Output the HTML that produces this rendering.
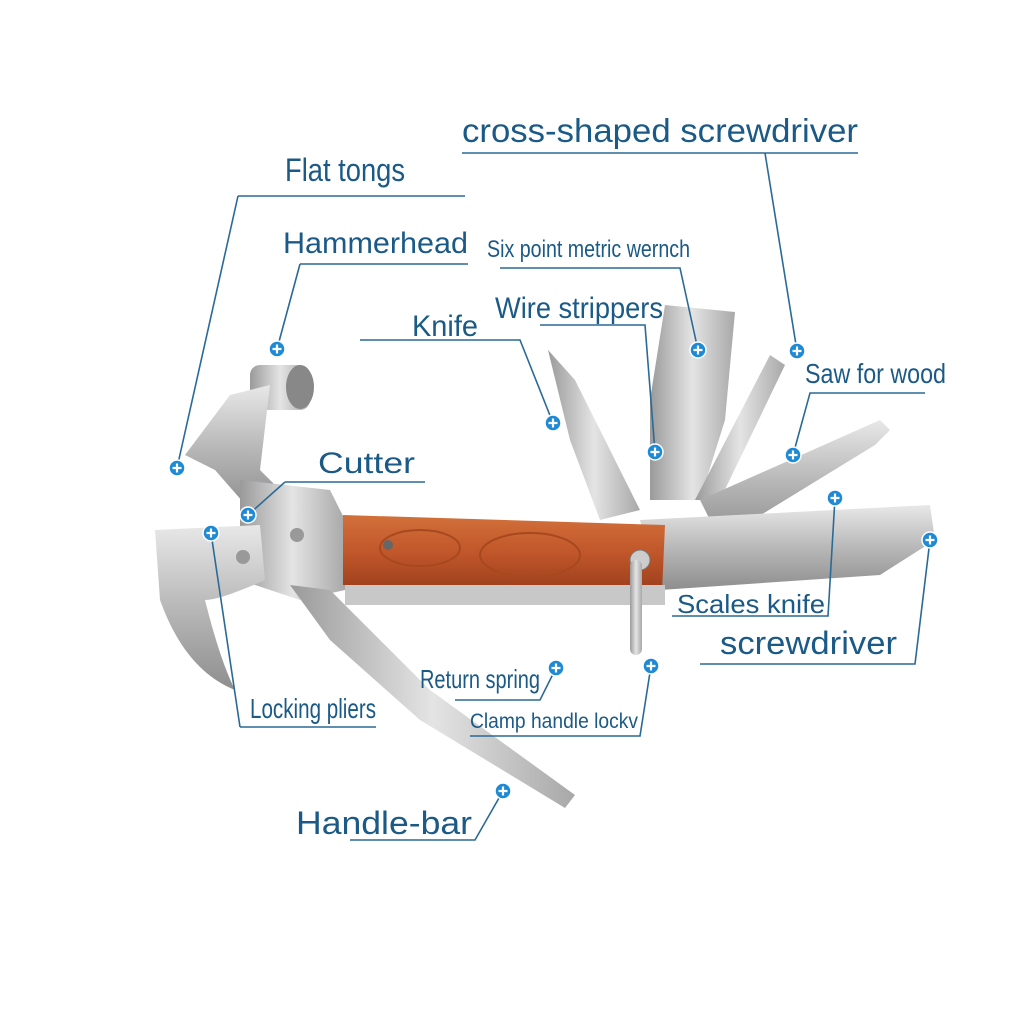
<!DOCTYPE html>
<html><head><meta charset="utf-8"><style>
html,body{margin:0;padding:0;background:#fff}
svg{display:block}
.t{font-family:"Liberation Sans",sans-serif;fill:#1b5a86}
.l{stroke:#2a6a96;stroke-width:1.6;fill:none}
</style></head><body>
<svg width="1024" height="1024" viewBox="0 0 1024 1024" xmlns="http://www.w3.org/2000/svg">
<defs>
<linearGradient id="m" x1="0" y1="0" x2="0" y2="1"><stop offset="0" stop-color="#e8e8e8"/><stop offset=".5" stop-color="#b8b8b8"/><stop offset="1" stop-color="#8e8e8e"/></linearGradient>
<linearGradient id="m2" x1="0" y1="0" x2="1" y2="0"><stop offset="0" stop-color="#9a9a9a"/><stop offset=".5" stop-color="#e4e4e4"/><stop offset="1" stop-color="#a8a8a8"/></linearGradient>
<linearGradient id="w" x1="0" y1="0" x2="0" y2="1"><stop offset="0" stop-color="#d2703a"/><stop offset=".5" stop-color="#c0562a"/><stop offset="1" stop-color="#9a3e1c"/></linearGradient>
<g id="p"><circle r="8" fill="#1e8ad6" stroke="#fff" stroke-width="1.5"/><path d="M-4.5 0H4.5M0 -4.5V4.5" stroke="#fff" stroke-width="2.2"/></g>
</defs>

<polygon points="548,350 575,380 600,430 640,510 600,520 570,440" fill="url(#m2)"/>
<polygon points="665,305 735,312 725,420 700,500 650,500 650,400" fill="url(#m2)"/>
<polygon points="770,355 785,365 720,500 695,500" fill="url(#m2)"/>
<polygon points="700,500 880,420 890,430 875,445 720,540" fill="url(#m)"/>
<polygon points="640,520 930,505 935,540 880,575 660,590" fill="url(#m)"/>
<rect x="250" y="365" width="60" height="45" rx="10" fill="url(#m2)"/>
<ellipse cx="300" cy="387" rx="14" ry="22" fill="#888"/>
<polygon points="230,395 270,385 260,470 290,500 250,510 215,470 185,455" fill="url(#m)"/>
<polygon points="240,480 330,490 345,520 345,590 300,600 240,580" fill="url(#m2)"/>
<path d="M155,530 L260,525 L265,580 Q220,600 205,600 Q220,660 235,690 Q185,670 160,600 Z" fill="url(#m)"/>
<polygon points="290,585 330,590 430,690 575,795 565,808 420,720 330,640" fill="url(#m2)"/>
<polygon points="343,515 665,525 662,592 343,585" fill="url(#w)"/>
<ellipse cx="420" cy="548" rx="40" ry="18" fill="none" stroke="#a8481f" stroke-width="2"/>
<ellipse cx="530" cy="555" rx="50" ry="22" fill="none" stroke="#a8481f" stroke-width="2"/>
<rect x="345" y="585" width="320" height="20" fill="#c8c8c8"/>
<circle cx="388" cy="545" r="5" fill="#666"/>
<circle cx="640" cy="560" r="10" fill="#ccc" stroke="#777"/>
<rect x="630" y="560" width="12" height="95" rx="6" fill="url(#m2)"/>
<circle cx="297" cy="535" r="7" fill="#999"/><circle cx="243" cy="557" r="7" fill="#999"/>

<g lengthAdjust="spacingAndGlyphs">
<text class="t" x="462" y="142" font-size="33" textLength="396" lengthAdjust="spacingAndGlyphs">cross-shaped screwdriver</text>
<text class="t" x="285" y="181" font-size="32" textLength="120" lengthAdjust="spacingAndGlyphs">Flat tongs</text>
<text class="t" x="283" y="253" font-size="30" textLength="185" lengthAdjust="spacingAndGlyphs">Hammerhead</text>
<text class="t" x="487" y="257" font-size="24" textLength="203" lengthAdjust="spacingAndGlyphs">Six point metric  wernch</text>
<text class="t" x="495" y="318" font-size="30" textLength="168" lengthAdjust="spacingAndGlyphs">Wire strippers</text>
<text class="t" x="412" y="336" font-size="30" textLength="66" lengthAdjust="spacingAndGlyphs">Knife</text>
<text class="t" x="805" y="383" font-size="28" textLength="141" lengthAdjust="spacingAndGlyphs">Saw for wood</text>
<text class="t" x="318" y="473" font-size="30" textLength="97" lengthAdjust="spacingAndGlyphs">Cutter</text>
<text class="t" x="677" y="613" font-size="26" textLength="148" lengthAdjust="spacingAndGlyphs">Scales knife</text>
<text class="t" x="720" y="654" font-size="32" textLength="177" lengthAdjust="spacingAndGlyphs">screwdriver</text>
<text class="t" x="420" y="688" font-size="26" textLength="120" lengthAdjust="spacingAndGlyphs">Return spring</text>
<text class="t" x="470" y="728" font-size="21" textLength="168" lengthAdjust="spacingAndGlyphs">Clamp handle lockv</text>
<text class="t" x="250" y="718" font-size="28" textLength="126" lengthAdjust="spacingAndGlyphs">Locking pliers</text>
<text class="t" x="296" y="834" font-size="32" textLength="176" lengthAdjust="spacingAndGlyphs">Handle-bar</text>
</g>
<path class="l" d="M462,153H858M765,153L797,351"/>
<path class="l" d="M238,196H465M238,196L177,468"/>
<path class="l" d="M300,264H468M300,264L277,349"/>
<path class="l" d="M500,268H680L698,350"/>
<path class="l" d="M540,325H645L655,452"/>
<path class="l" d="M360,340H520L553,423"/>
<path class="l" d="M925,393H810L793,455"/>
<path class="l" d="M285,482H425M285,482L248,515"/>
<path class="l" d="M672,616H828L835,498"/>
<path class="l" d="M700,664H915L930,540"/>
<path class="l" d="M455,700H540L556,668"/>
<path class="l" d="M470,736H640L651,666"/>
<path class="l" d="M240,727H376M240,727L211,533"/>
<path class="l" d="M350,840H475L503,791"/>

<use href="#p" x="797" y="351"/><use href="#p" x="177" y="468"/><use href="#p" x="277" y="349"/>
<use href="#p" x="698" y="350"/><use href="#p" x="655" y="452"/><use href="#p" x="553" y="423"/>
<use href="#p" x="793" y="455"/><use href="#p" x="248" y="515"/><use href="#p" x="835" y="498"/>
<use href="#p" x="930" y="540"/><use href="#p" x="556" y="668"/><use href="#p" x="651" y="666"/>
<use href="#p" x="211" y="533"/><use href="#p" x="503" y="791"/>
</svg>
</body></html>
